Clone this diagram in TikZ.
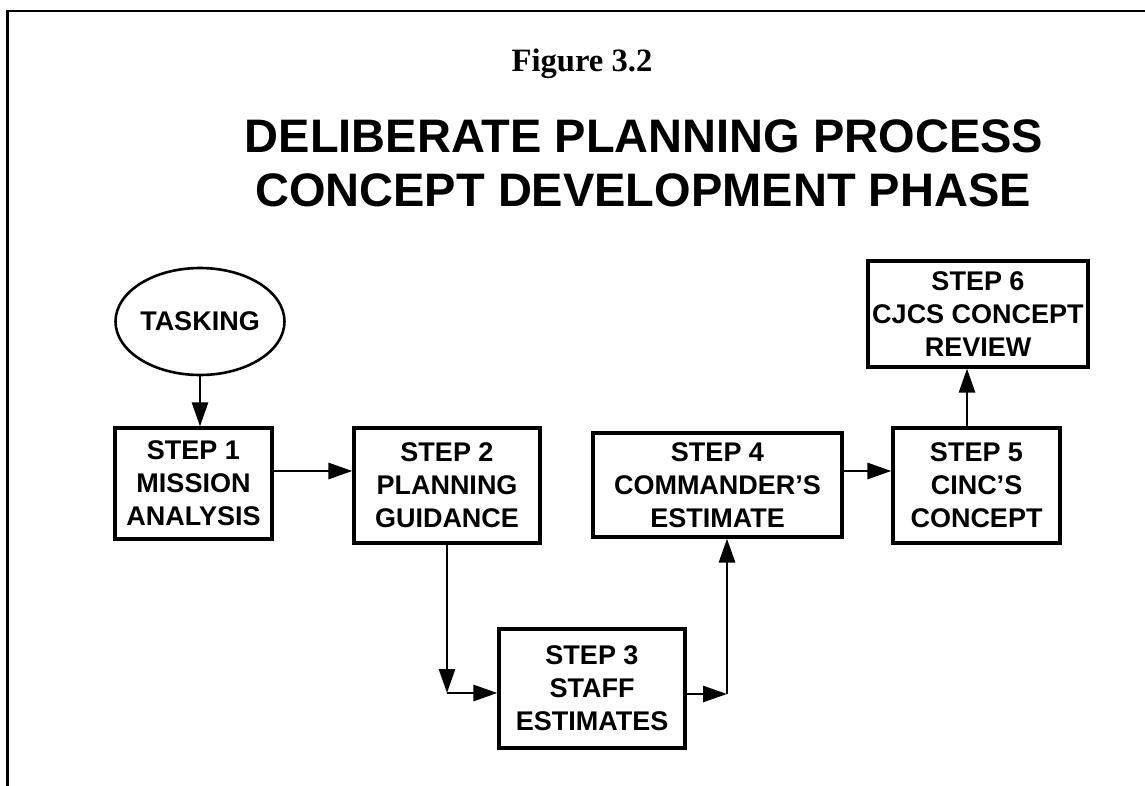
\documentclass[tikz,border=0pt]{standalone}
\usepackage{fontspec}
\setmainfont{Liberation Sans}
\newfontfamily\figfont{Liberation Serif}
\usepackage{tikz}
\usetikzlibrary{arrows.meta, shapes.geometric}

\begin{document}
\begin{tikzpicture}[x=0.5pt, y=-0.5pt,
    stepbox/.style={draw, line width=1.6pt, inner sep=0pt, align=center, font=\fontsize{13.5}{16.5}\selectfont\bfseries},
    headline/.style={anchor=base, inner sep=0pt, font=\fontsize{23.5}{28}\selectfont\bfseries},
    flow/.style={line width=1.4pt, -{Triangle[length=12pt, width=8pt]}}]
    \useasboundingbox (0,0) rectangle (1145,786);
    \draw [line width=1.3pt] (7.5,786) -- (7.5,11) -- (1145,11);
    \node [anchor=base, inner sep=0pt, font=\figfont\fontsize{16.3}{19}\selectfont\bfseries] (fig) at (582,72) {Figure 3.2};
    \node [headline] (title1) at (644,153) {DELIBERATE PLANNING PROCESS};
    \node [headline] (title2) at (643,207) {CONCEPT DEVELOPMENT PHASE};
    \node [draw, ellipse, line width=1.3pt, inner sep=0pt, minimum width=73pt, minimum height=53.5pt, font=\fontsize{13.5}{16.5}\selectfont\bfseries] (T) at (200,321.5) {TASKING};
        \node [stepbox, minimum width=78.5pt, minimum height=55.5pt] (S1) at (193.5,483.5) {STEP 1\\MISSION\\ANALYSIS};
        \node [stepbox, minimum width=93pt, minimum height=57.5pt] (S2) at (447,485.5) {STEP 2\\PLANNING\\GUIDANCE};
        \node [stepbox, minimum width=93pt, minimum height=59.5pt] (S3) at (592,688.5) {STEP 3\\STAFF\\ESTIMATES};
        \node [stepbox, minimum width=124.5pt, minimum height=52pt] (S4) at (717.5,485) {STEP 4\\COMMANDER'S\\ESTIMATE};
        \node [stepbox, minimum width=83.5pt, minimum height=57.5pt] (S5) at (976.5,485.5) {STEP 5\\CINC'S\\CONCEPT};
        \node [stepbox, minimum width=110pt, minimum height=53pt] (S6) at (978,314) {STEP 6\\CJCS CONCEPT\\REVIEW};
    \coordinate (c23) at (447,693);
    \coordinate (c34) at (727,694);
    \draw [flow] (T.south) -- (T.south |- S1.north);
    \draw [flow] ([yshift=6.25pt]S1.east) -- ([yshift=6.25pt]S1.east -| S2.west);
    \draw [flow] (S2.south) -- (c23);
    \draw [flow] (c23) -- (c23 -| S3.west);
    \draw [flow] (c34 -| S3.east) -- (c34);
    \draw [flow] (c34) -- (c34 |- S4.south);
    \draw [flow] ([yshift=7pt]S4.east) -- ([yshift=7pt]S4.east -| S5.west);
    \draw [flow] ([xshift=-4.75pt]S5.north) -- ([xshift=-4.75pt]S5.north |- S6.south);
\end{tikzpicture}
\end{document}
